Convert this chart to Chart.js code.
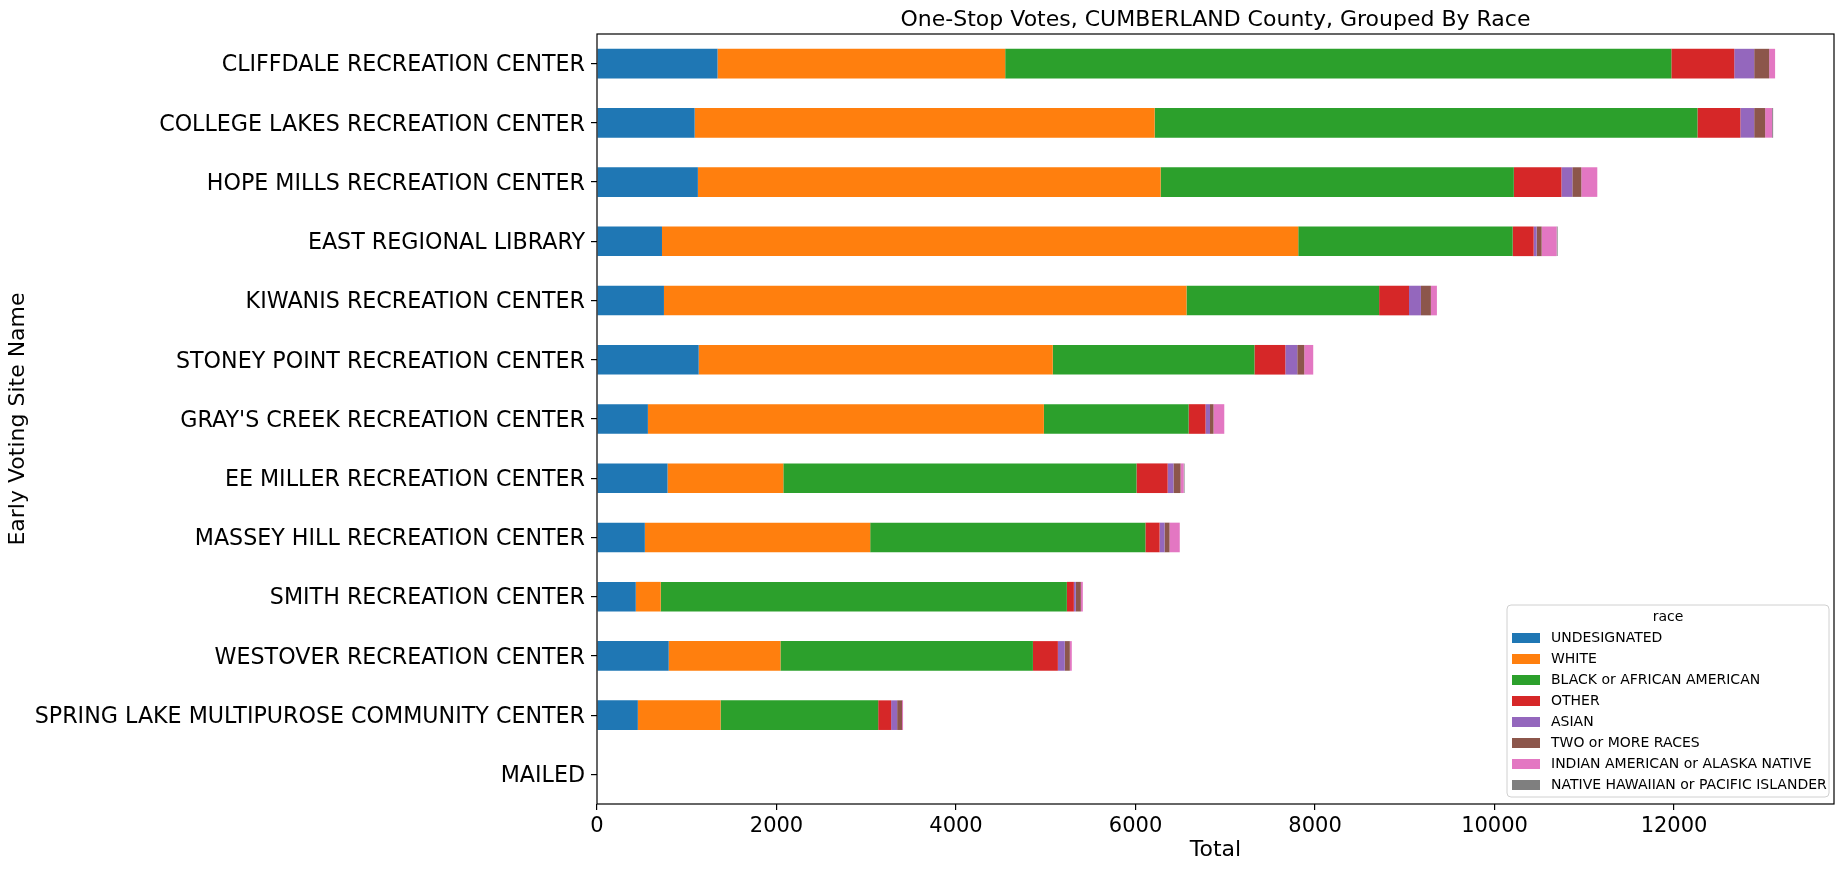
<!DOCTYPE html>
<html>
<head>
<meta charset="utf-8">
<title>One-Stop Votes, CUMBERLAND County</title>
<script src="https://cdn.jsdelivr.net/npm/chart.js@4.4.0/dist/chart.umd.min.js"></script>
<style>
  body { margin: 0; background: #fff; }
  #chart-wrap { width: 1846px; height: 869px; }
</style>
</head>
<body>
<div id="chart-wrap"><canvas id="chart-votes" width="1846" height="869"></canvas></div>
<script>
// early voting sites, top to bottom
var sites = [
  "CLIFFDALE RECREATION CENTER",
  "COLLEGE LAKES RECREATION CENTER",
  "HOPE MILLS RECREATION CENTER",
  "EAST REGIONAL LIBRARY",
  "KIWANIS RECREATION CENTER",
  "STONEY POINT RECREATION CENTER",
  "GRAY'S CREEK RECREATION CENTER",
  "EE MILLER RECREATION CENTER",
  "MASSEY HILL RECREATION CENTER",
  "SMITH RECREATION CENTER",
  "WESTOVER RECREATION CENTER",
  "SPRING LAKE MULTIPUROSE COMMUNITY CENTER",
  "MAILED"
];

// votes per race
var undesignated = [1343, 1088, 1124, 724, 746, 1133, 567, 786, 533, 432, 799, 455, 0];
var white        = [3205, 5125, 5156, 7089, 5822, 3945, 4412, 1290, 2511, 278, 1245, 922, 0];
var black        = [7422, 6048, 3935, 2389, 2146, 2247, 1613, 3935, 3066, 4525, 2813, 1756, 0];
var other        = [701, 478, 530, 234, 333, 344, 188, 347, 158, 78, 278, 144, 0];
var asian        = [222, 154, 122, 33, 133, 133, 50, 65, 55, 22, 77, 67, 0];
var twoOrMore    = [167, 122, 100, 56, 111, 78, 39, 79, 56, 56, 56, 55, 0];
var indianAlaska = [66, 78, 178, 167, 67, 100, 120, 35, 114, 22, 22, 11, 0];
var hawaiianPac  = [0, 11, 0, 11, 0, 0, 0, 9, 0, 0, 0, 0, 0];

var raceNames = [
  "UNDESIGNATED", "WHITE", "BLACK or AFRICAN AMERICAN", "OTHER", "ASIAN",
  "TWO or MORE RACES", "INDIAN AMERICAN or ALASKA NATIVE", "NATIVE HAWAIIAN or PACIFIC ISLANDER"
];
var raceColors = ["#1f77b4", "#ff7f0e", "#2ca02c", "#d62728", "#9467bd", "#8c564b", "#e377c2", "#7f7f7f"];
var raceValues = [undesignated, white, black, other, asian, twoOrMore, indianAlaska, hawaiianPac];

var xTicks = [0, 2000, 4000, 6000, 8000, 10000, 12000];

var FONT = "DejaVu Sans";

// largest stacked total, plus 5% margin like the original
var maxTotal = 0;
for (var i = 0; i < sites.length; i++) {
  var sum = 0;
  for (var j = 0; j < raceValues.length; j++) sum += raceValues[j][i];
  if (sum > maxTotal) maxTotal = sum;
}

var datasets = [];
for (var k = 0; k < raceNames.length; k++) {
  datasets.push({
    label: raceNames[k],
    data: raceValues[k],
    backgroundColor: raceColors[k],
    borderWidth: 0,
    categoryPercentage: 1.0,
    barPercentage: 0.5
  });
}

// frame, title and the boxed legend in the lower right
var decorPlugin = {
  id: 'decor',
  afterDraw: function(chart) {
    var ctx = chart.ctx;
    var area = chart.chartArea;
    ctx.save();

    ctx.strokeStyle = '#000';
    ctx.lineWidth = 1.2;
    ctx.strokeRect(area.left, area.top, area.right - area.left, area.bottom - area.top);

    ctx.fillStyle = '#000';
    ctx.font = '22px "' + FONT + '"';
    ctx.textAlign = 'center';
    ctx.textBaseline = 'middle';
    ctx.fillText('One-Stop Votes, CUMBERLAND County, Grouped By Race', (area.left + area.right) / 2, 20);

    // legend
    var boxW = 322, boxH = 192;
    var bx = area.right - 5 - boxW;
    var by = area.bottom - 7 - boxH;
    ctx.beginPath();
    ctx.roundRect(bx, by, boxW, boxH, 4);
    ctx.fillStyle = 'rgba(255,255,255,0.8)';
    ctx.fill();
    ctx.strokeStyle = '#d0d0d0';
    ctx.lineWidth = 1;
    ctx.stroke();

    ctx.font = '14px "' + FONT + '"';
    ctx.fillStyle = '#000';
    ctx.textAlign = 'center';
    ctx.fillText('race', bx + boxW / 2, by + 12);

    ctx.textAlign = 'left';
    var ds = chart.data.datasets;
    for (var n = 0; n < ds.length; n++) {
      var rowY = by + 33 + n * 21;
      ctx.fillStyle = ds[n].backgroundColor;
      ctx.fillRect(bx + 5, rowY - 5, 28, 10);
      ctx.fillStyle = '#000';
      ctx.fillText(ds[n].label, bx + 44, rowY);
    }
    ctx.restore();
  }
};

new Chart(document.getElementById('chart-votes'), {
  type: 'bar',
  data: { labels: sites, datasets: datasets },
  options: {
    indexAxis: 'y',
    responsive: false,
    animation: false,
    layout: { padding: { top: 34, right: 12, bottom: 0, left: 0 } },
    plugins: {
      legend: { display: false },
      tooltip: { enabled: false },
      title: { display: false }
    },
    scales: {
      x: {
        stacked: true,
        min: 0,
        max: maxTotal * 1.05,
        afterBuildTicks: function(axis) {
          axis.ticks = xTicks.map(function(v) { return { value: v }; });
        },
        afterFit: function(scale) { scale.height = 65; },
        grid: { drawOnChartArea: false, drawTicks: true, tickLength: 6, color: '#000', lineWidth: 1.2 },
        border: { display: false },
        ticks: {
          color: '#000',
          padding: 4,
          maxRotation: 0,
          font: { family: FONT, size: 21 },
          callback: function(v) { return String(v); }
        },
        title: {
          display: true,
          text: 'Total',
          color: '#000',
          font: { family: FONT, size: 22 },
          padding: { top: 0, bottom: 6 }
        }
      },
      y: {
        stacked: true,
        offset: true,
        afterFit: function(scale) { scale.width = 597; },
        grid: { drawOnChartArea: false, drawTicks: true, tickLength: 6, color: '#000', lineWidth: 1.2, offset: false },
        border: { display: false },
        ticks: {
          color: '#000',
          padding: 6,
          autoSkip: false,
          labelOffset: 2,
          font: { family: FONT, size: 22.2 }
        },
        title: {
          display: true,
          text: 'Early Voting Site Name',
          color: '#000',
          font: { family: FONT, size: 22 },
          padding: { top: 5, bottom: 0 }
        }
      }
    }
  },
  plugins: [decorPlugin]
});
</script>
</body>
</html>
